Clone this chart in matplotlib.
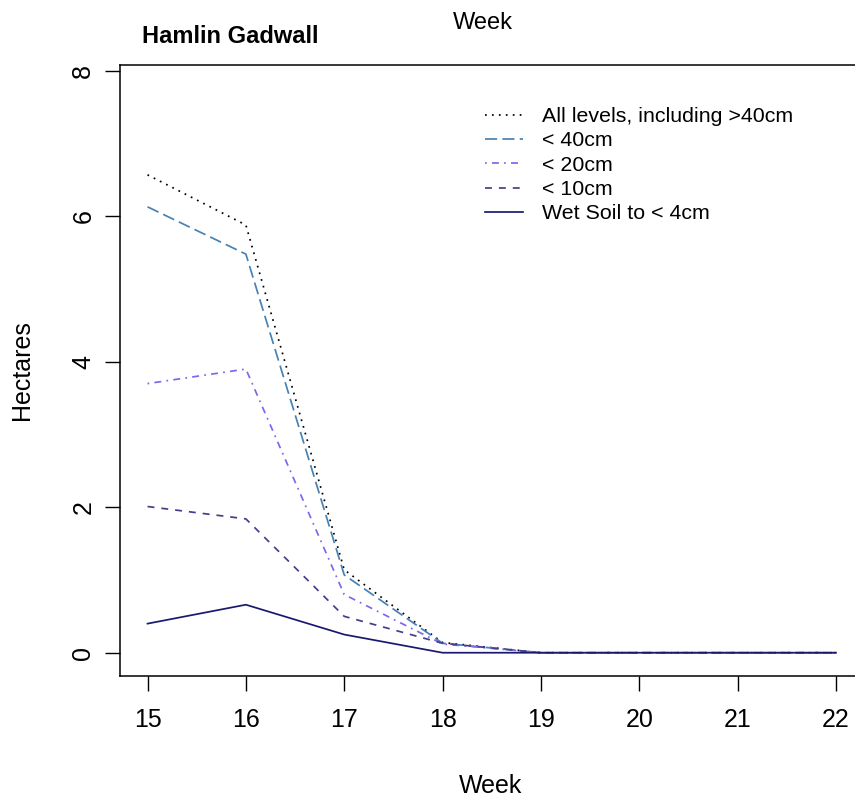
import matplotlib
matplotlib.use("Agg")
import matplotlib.pyplot as plt

plt.rcParams['font.family'] = ['Liberation Sans', 'DejaVu Sans']

weeks = [15, 16, 17, 18, 19, 20, 21, 22]
all_levels = [6.57, 5.88, 1.14, 0.14, 0.0, 0.0, 0.0, 0.0]
lt40 = [6.13, 5.48, 1.07, 0.13, 0.0, 0.0, 0.0, 0.0]
lt20 = [3.70, 3.90, 0.80, 0.12, 0.0, 0.0, 0.0, 0.0]
lt10 = [2.01, 1.84, 0.50, 0.13, 0.0, 0.0, 0.0, 0.0]
wet = [0.40, 0.66, 0.25, 0.0, 0.0, 0.0, 0.0, 0.0]

labels = ["All levels, including >40cm", "< 40cm", "< 20cm", "< 10cm", "Wet Soil to < 4cm"]
series = [all_levels, lt40, lt20, lt10, wet]
colors = ["black", "#4682B4", "#7B68EE", "#483D8B", "#191970"]
# R lty: dotted, longdash, dotdash, dashed, solid
styles = [(0, (1, 3)), (0, (7, 3)), (0, (1, 3, 4, 3)), (0, (4, 4)), "-"]

W, H = 855, 799
fig = plt.figure(figsize=(W / 100, H / 100), dpi=100)
# plot box in pixels: left 120, right ~863 (past the edge), top 65, bottom 676
left, right, top, bottom = 120, 863.5, 65, 676
ax = fig.add_axes([left / W, 1 - bottom / H, (right - left) / W, (bottom - top) / H])

for s, c, ls, lab in zip(series, colors, styles, labels):
    ax.plot(weeks, s, color=c, linestyle=ls, lw=1.25, label=lab)

ax.set_xlim(14.72, 22.28)
ax.set_ylim(-0.32, 8.08)
ax.set_xticks(weeks)
ax.set_yticks([0, 2, 4, 6, 8])
ax.tick_params(labelsize=18, length=10.8, width=1)
ax.tick_params(axis='x', pad=12)
ax.tick_params(axis='y', pad=7)
for t in ax.get_yticklabels():
    t.set_rotation(90)
    t.set_va('center')
ax.spines['right'].set_visible(False)
for sp in ax.spines.values():
    sp.set_linewidth(1.1)

fig.text(22 / W, 1 - 370 / H, "Hectares", rotation=90, ha='center', va='center', fontsize=18)
fig.text(491 / W, 1 - 793 / H, "Week", ha='center', va='baseline', fontsize=18)
fig.text(483 / W, 1 - 29 / H, "Week", ha='center', va='baseline', fontsize=17)
fig.text(142 / W, 1 - 43 / H, "Hamlin Gadwall", ha='left', va='baseline', fontsize=17, fontweight='bold')

ax.legend(loc='upper left', bbox_to_anchor=(485 / W, 1 - 107 / H), bbox_transform=fig.transFigure,
          frameon=False, fontsize=15.4, handlelength=1.78, handletextpad=0.89, labelspacing=0.25,
          borderpad=0, borderaxespad=0)

fig.savefig("out.png", dpi=100)
